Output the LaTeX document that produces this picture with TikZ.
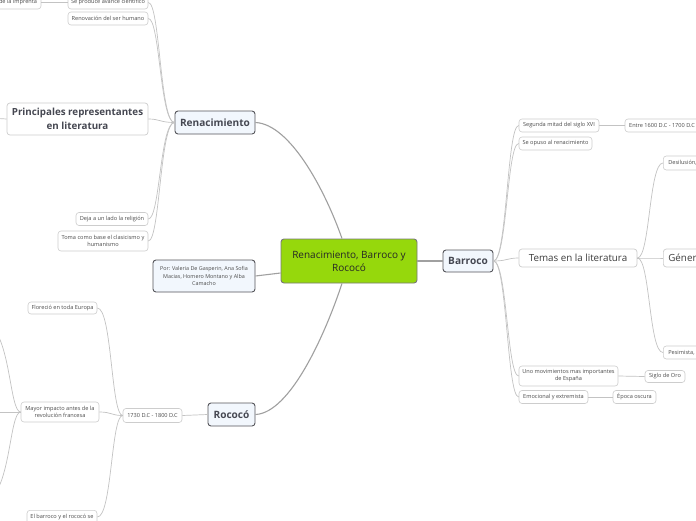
\documentclass[tikz,border=0pt]{standalone}
\usepackage{fontspec}
\setmainfont{Open Sans}
\definecolor{cgreen}{RGB}{150,216,12}
\definecolor{cborder}{RGB}{120,120,120}
\definecolor{boxline}{RGB}{205,205,205}
\definecolor{smalltext}{RGB}{75,75,75}
\definecolor{mainline}{RGB}{85,85,90}
\definecolor{mainfill}{RGB}{242,247,253}
\definecolor{maintext}{RGB}{70,72,82}
\definecolor{midtext}{RGB}{60,60,60}
\definecolor{linkc}{RGB}{195,195,195}
\definecolor{mainlinkc}{RGB}{160,160,160}
\begin{document}
\begin{tikzpicture}[x=1pt,y=-1pt,
  base/.style={rounded corners=3pt, inner sep=0pt, align=center},
  small/.style={base, draw=boxline, line width=0.6pt, fill=white, font=\fontsize{5.6}{7}\selectfont, text=smalltext},
  mainbox/.style={base, draw=mainline, line width=0.9pt, fill=mainfill, font=\fontsize{10.1}{12}\selectfont\bfseries, text=maintext},
  midbox/.style={base, draw=boxline, line width=0.7pt, fill=white, font=\fontsize{9.8}{13.5}\selectfont, text=midtext},
  link/.style={draw=linkc, line width=0.7pt},
  mainlink/.style={draw=mainlinkc, line width=1.1pt}]
\useasboundingbox (0,0) rectangle (696,520);
\clip (0,0) rectangle (696,520);
\fill[white] (0,0) rectangle (696,520);

% central node
\node[base, draw=cborder, line width=0.9pt, fill=cgreen, minimum width=136pt, minimum height=44pt,
  font=\fontsize{10}{13}\selectfont, text=black!85] (cn) at (349,261) {Renacimiento, Barroco y\\Rococó};

% main topics
\node[mainbox, minimum width=80pt, minimum height=23pt] (ren) at (215,122.5) {Renacimiento};
\node[mainbox, minimum width=50pt, minimum height=22pt] (bar) at (468,261) {Barroco};
\node[mainbox, minimum width=47pt, minimum height=23pt] (roc) at (231.5,414.5) {Rococó};
\node[base, draw=mainline, line width=0.9pt, fill=mainfill, minimum width=102pt, minimum height=32pt,
  font=\fontsize{5.4}{7.2}\selectfont, text=smalltext] (por) at (204,276)
  {Por: Valeria De Gasperin, Ana Sofia\\Macias, Homero Montano y Alba\\Camacho};

% Renacimiento children
\node[small, minimum width=80pt, minimum height=13pt] (avance) at (108,2.5) {Se produce avance científico};
\node[small, minimum width=46pt, minimum height=13pt] (impr) at (18,2.5) {de la imprenta};
\node[small, minimum width=80pt, minimum height=13pt] (renov) at (108,18.5) {Renovación del ser humano};
\node[base, draw=boxline, line width=0.7pt, fill=white, minimum width=141pt, minimum height=32pt,
  font=\fontsize{9.8}{14}\selectfont\bfseries, text=maintext] (princ) at (77.5,119) {Principales representantes\\en literatura};
\node[small, minimum width=72pt, minimum height=13pt] (deja) at (112,219) {Deja a un lado la religión};
\node[small, minimum width=90pt, minimum height=20pt] (toma) at (103,241) {Toma como base el clasicismo y\\humanismo};
\coordinate (princL) at (-10,118);

% Barroco children
\node[small, minimum width=80pt, minimum height=13pt] (seg) at (559,125.5) {Segunda mitad del siglo XVI};
\node[small, minimum width=74pt, minimum height=13pt] (entre) at (662,125.5) {Entre 1600 D.C - 1700 D.C};
\node[small, minimum width=73pt, minimum height=13pt] (opuso) at (555.5,143.5) {Se opuso al renacimiento};
\node[midbox, minimum width=118pt, minimum height=18pt] (temas) at (578,258) {Temas en la literatura};
\node[midbox, anchor=west, minimum height=18pt, text width=40pt, align=left, inner xsep=5pt] (gen) at (663,258) {Géner};
\node[small, anchor=west, minimum height=14pt, text width=40pt, align=left, inner xsep=5pt] (desil) at (663,163) {Desilusión,};
\node[small, anchor=west, minimum height=13pt, text width=40pt, align=left, inner xsep=5pt] (pesim) at (663,352.5) {Pesimista,};
\node[small, minimum width=99pt, minimum height=20pt] (uno) at (568.5,376) {Uno movimientos mas importantes\\de España};
\node[small, minimum width=40pt, minimum height=12pt] (siglo) at (665,376.5) {Siglo de Oro};
\node[small, minimum width=69pt, minimum height=13pt] (emoc) at (553.5,397) {Emocional y extremista};
\node[small, minimum width=43pt, minimum height=13pt] (epoca) at (634.5,397) {Época oscura};

% Rococó children
\node[small, minimum width=59pt, minimum height=14pt] (fecha) at (152.5,415.5) {1730 D.C - 1800 D.C};
\node[small, minimum width=69pt, minimum height=12pt] (flor) at (62.5,308) {Floreció en toda Europa};
\node[small, minimum width=78pt, minimum height=20pt] (mayor) at (60,412) {Mayor impacto antes de la\\revolución francesa};
\node[small, anchor=north, minimum width=70pt, minimum height=14pt] (elbar) at (62,510) {El barroco y el rococó se};
\coordinate (mA) at (-15,322);
\coordinate (mB) at (-15,412);
\coordinate (mC) at (-15,502);

% central links
\draw[mainlink] (ren.east) .. controls (290,124) and (325,190) .. ([xshift=-7pt]cn.north);
\draw[mainlink] (roc.east) .. controls (290,413) and (325,335) .. ([xshift=-7pt]cn.south);
\draw[mainlink] (por.east) -- ([yshift=-12pt]cn.west);
\draw[mainlink] (cn.east) -- (bar.west);

% Renacimiento links
\foreach \n in {avance,renov,princ,deja,toma}
  \draw[link] (ren.west) .. controls (160,122.5) and (160,0 |- \n.east) .. (\n.east);
\draw[link] (avance.west) -- (impr.east);
\draw[link] (princ.west) -- (princL);

% Barroco links
\foreach \n in {seg,opuso,temas,uno,emoc}
  \draw[link] (bar.east) .. controls (507,261) and (507,0 |- \n.west) .. (\n.west);
\draw[link] (seg.east) -- (entre.west);
\draw[link] (uno.east) -- (siglo.west);
\draw[link] (emoc.east) -- (epoca.west);
\foreach \n in {desil,gen,pesim}
  \draw[link] (temas.east) .. controls (650,258) and (649,0 |- \n.west) .. (\n.west);

% Rococó links
\draw[link] (roc.west) -- (fecha.east);
\draw[link] (fecha.west) .. controls (111,415.5) and (112,308) .. (flor.east);
\draw[link] (fecha.west) .. controls (111,415.5) and (112,412) .. (mayor.east);
\draw[link] (fecha.west) .. controls (111,415.5) and (112,517) .. ([yshift=-7pt]elbar.north east);
\draw[link] (mayor.west) .. controls (9,412) and (11,330) .. (mA);
\draw[link, line width=1pt] (mayor.west) -- (mB);
\draw[link] (mayor.west) .. controls (9,412) and (11,494) .. (mC);
\end{tikzpicture}
\end{document}
